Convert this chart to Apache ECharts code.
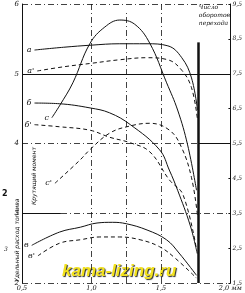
<!DOCTYPE html>
<html>
<head>
<meta charset="utf-8">
<script src="https://cdn.jsdelivr.net/npm/echarts@6/dist/echarts.min.js"></script>
<style>
  html, body { margin: 0; padding: 0; background: #fff; }
  #chart { width: 245px; height: 293px; }
</style>
</head>
<body>
<div id="chart"></div>
<script>
// x: зазор, y: левая шкала 2..6
const xTicks = [0.5, 1.0, 1.5, 2.0];
const leftTicks = [2, 3, 4, 5, 6];
const rightTicks = [1.5, 2.5, 3.5, 4.5, 5.5, 6.5, 7.5, 8.5, 9.5];

const curveA = [[0.59, 5.34], [0.8, 5.38], [1.0, 5.41], [1.2, 5.43], [1.4, 5.43], [1.55, 5.40], [1.65, 5.23], [1.72, 4.94], [1.763, 4.48]];
const curveA2 = [[0.61, 5.04], [0.8, 5.10], [1.0, 5.15], [1.2, 5.20], [1.4, 5.23], [1.55, 5.20], [1.65, 5.05], [1.72, 4.80], [1.763, 4.34]];
const curveB = [[0.59, 4.58], [0.77, 4.57], [0.99, 4.51], [1.13, 4.44], [1.28, 4.27], [1.49, 3.91], [1.56, 3.62], [1.62, 3.33], [1.71, 2.83], [1.756, 2.47]];
const curveB2 = [[0.59, 4.27], [0.77, 4.24], [0.99, 4.19], [1.13, 4.09], [1.28, 4.01], [1.42, 3.88], [1.56, 3.48], [1.66, 3.26], [1.763, 2.40]];
const curveC = [[0.715, 4.37], [0.773, 4.55], [0.866, 4.87], [0.988, 5.43], [1.096, 5.67], [1.204, 5.77], [1.311, 5.71], [1.419, 5.44], [1.541, 4.87], [1.62, 4.48], [1.692, 3.98], [1.756, 3.33]];
const curveC2 = [[0.737, 3.43], [0.916, 3.76], [0.988, 3.91], [1.132, 4.15], [1.275, 4.25], [1.419, 4.29], [1.562, 4.19], [1.649, 3.94], [1.72, 3.51], [1.763, 2.97]];
const curveV = [[0.57, 2.54], [0.77, 2.73], [0.92, 2.80], [1.04, 2.86], [1.15, 2.87], [1.25, 2.85], [1.4, 2.76], [1.54, 2.62], [1.63, 2.43], [1.756, 2.11]];
const curveV2 = [[0.615, 2.39], [0.77, 2.57], [0.92, 2.62], [1.06, 2.66], [1.2, 2.66], [1.35, 2.62], [1.49, 2.52], [1.6, 2.36], [1.756, 2.07]];

const curveNames = ['а', 'а\'', 'б', 'б\'', 'с', 'с\'', 'в', 'в\''];
const curveData = [curveA, curveA2, curveB, curveB2, curveC, curveC2, curveV, curveV2];
const curveDashed = [false, true, false, true, false, true, false, true];

const stopLine = 1.77; // предельный зазор
const sideLine = 1.25;

const ink = '#111';
const smallFont = { fontFamily: 'DejaVu Serif', fontStyle: 'italic', fontSize: 7, color: ink };

const chart = echarts.init(document.getElementById('chart'), null, { renderer: 'canvas' });

const series = curveData.map((pts, i) => ({
  type: 'line',
  name: curveNames[i],
  smooth: 0.4,
  showSymbol: true,
  symbol: 'circle',
  symbolSize: 0,
  silent: true,
  lineStyle: { color: ink, width: 1, type: curveDashed[i] ? [4, 3] : 'solid' },
  itemStyle: { color: ink },
  data: pts.map((p, j) => j === 0
    ? { value: p, label: { show: true, position: 'left', distance: 3, formatter: curveNames[i], ...smallFont, fontSize: 8 } }
    : p)
}));

// опорные линии
series.push({
  type: 'line',
  data: [],
  markLine: {
    silent: true,
    symbol: 'none',
    label: { show: false },
    data: [
      [{ coord: [0.5, 5], lineStyle: { type: 'solid', width: 1, color: ink } }, { coord: [2.0, 5] }],
      [{ coord: [0.5, 3], lineStyle: { type: 'solid', width: 1, color: ink } }, { coord: [0.78, 3] }],
      [{ coord: [stopLine, 4], lineStyle: { type: 'solid', width: 1, color: ink } }, { coord: [2.0, 4] }],
      [{ coord: [sideLine, 2], lineStyle: { type: [6, 3, 1, 3], width: 0.8, color: ink } }, { coord: [sideLine, 5.9] }],
      [{ coord: [stopLine, 2], lineStyle: { type: 'solid', width: 2.5, color: ink } }, { coord: [stopLine, 5.45] }]
    ]
  }
});

chart.setOption({
  animation: false,
  backgroundColor: '#fff',
  grid: { left: 22, right: 13, top: 4, bottom: 10 },
  xAxis: {
    type: 'value',
    min: xTicks[0],
    max: xTicks[xTicks.length - 1],
    interval: 0.5,
    axisLine: { show: false },
    axisTick: { show: false },
    axisLabel: {
      ...smallFont, fontSize: 6.5, margin: 2,
      formatter: v => v === 2 ? '2,0 мм' : v.toFixed(1).replace('.', ',')
    },
    splitLine: { show: true, lineStyle: { color: ink, width: 0.8, type: [6, 3, 1, 3] } }
  },
  yAxis: [
    {
      type: 'value',
      min: leftTicks[0],
      max: leftTicks[leftTicks.length - 1],
      interval: 1,
      axisLine: { show: true, lineStyle: { color: ink, width: 1 } },
      axisTick: { show: false },
      axisLabel: { ...smallFont, fontSize: 7, margin: 3 },
      splitLine: { show: true, lineStyle: { color: ink, width: 0.8, type: [6, 3, 1, 3] } }
    },
    {
      type: 'value',
      position: 'right',
      min: rightTicks[0],
      max: rightTicks[rightTicks.length - 1],
      interval: 1,
      axisLine: { show: true, lineStyle: { color: ink, width: 1 } },
      axisTick: { show: true, length: 2, inside: true, lineStyle: { color: ink } },
      axisLabel: { ...smallFont, fontSize: 6, margin: 2, formatter: v => v.toFixed(1).replace('.', ',') },
      splitLine: { show: false }
    }
  ],
  graphic: [
    {
      type: 'text', right: 15, top: 3,
      style: { text: 'Число\nоборотов\nперехода', align: 'right', fontFamily: 'DejaVu Serif', fontStyle: 'italic', fontSize: 6, lineHeight: 8, fill: ink }
    },
    {
      type: 'text', x: 31, y: 205, rotation: Math.PI / 2,
      style: { text: 'Крутящий момент', fontFamily: 'DejaVu Sans', fontStyle: 'italic', fontSize: 6, fill: ink }
    },
    {
      type: 'text', x: 14, y: 282, rotation: Math.PI / 2,
      style: { text: 'Удельный расход топлива', fontFamily: 'DejaVu Sans', fontStyle: 'italic', fontSize: 6, fill: ink }
    },
    { type: 'text', x: 2, y: 190, style: { text: '2', fontFamily: 'DejaVu Sans', fontWeight: 'bold', fontSize: 8, fill: ink } },
    { type: 'text', x: 4, y: 246, style: { text: '3', fontFamily: 'DejaVu Serif', fontStyle: 'italic', fontSize: 6, fill: ink } },
    {
      type: 'text', x: 62, y: 263,
      style: {
        text: 'kama-lizing.ru', fontFamily: 'Liberation Sans', fontWeight: 'bold', fontStyle: 'italic', fontSize: 17,
        fill: '#f3e21c', textShadowColor: 'rgba(30,30,30,0.95)', textShadowBlur: 1, textShadowOffsetX: 1, textShadowOffsetY: 1
      }
    }
  ],
  series
});
</script>
</body>
</html>
